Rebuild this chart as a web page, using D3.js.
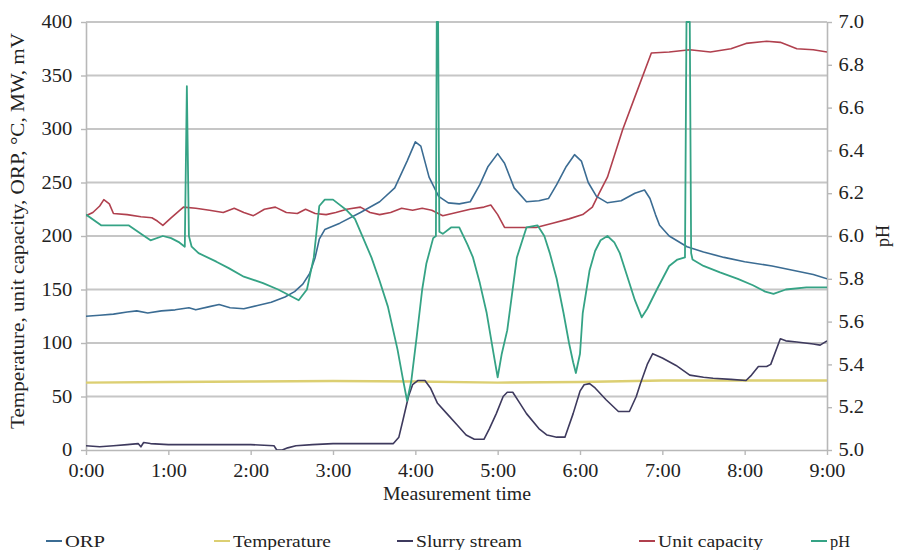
<!DOCTYPE html>
<html>
<head>
<meta charset="utf-8">
<script src="https://cdn.jsdelivr.net/npm/d3@7"></script>
<style>
  html, body { margin: 0; padding: 0; background: #fff; }
  svg { display: block; font-family: "Liberation Serif", "Times New Roman", serif; }
</style>
</head>
<body>
<svg id="chart" width="897" height="550"></svg>
<script>
// Time is given in minutes from 0:00; values in the left-axis unit, pH on its own axis.
const timeTicks = [0, 60, 120, 180, 240, 300, 360, 420, 480, 540];
const leftTicks = [0, 50, 100, 150, 200, 250, 300, 350, 400];
const phTicks = [5.0, 5.2, 5.4, 5.6, 5.8, 6.0, 6.2, 6.4, 6.6, 6.8, 7.0];

const orp = [
  [0,125],[10,126],[20,127],[30,129],[37,130],[45,128],[55,130],[65,131],[75,133],[80,131],
  [90,134],[97,136],[105,133],[115,132],[125,135],[135,138],[145,143],[152,148],[158,155],
  [163,165],[167,180],[170,197],[174,206],[185,212],[200,222],[214,232],[225,245],[234,270],
  [240,288],[244,284],[250,255],[257,237],[264,231],[272,230],[280,232],[287,248],[293,265],
  [300,277],[305,268],[312,245],[321,232],[330,233],[337,235],[343,248],[350,265],[356,276],
  [361,270],[366,250],[372,237],[380,231],[390,233],[400,240],[407,243],[411,235],[415,220],
  [418,210],[425,200],[438,190],[450,185],[465,180],[480,176],[500,172],[515,168],[530,164],[540,160]
];

const temperature = [
  [0,63],[60,63.5],[120,64],[180,64.5],[240,64],[300,63],[360,63.5],[420,65],[480,65],[540,65]
];

const slurryStream = [
  [0,4],[10,3],[20,4],[30,5],[38,6],[40,3],[42,7],[47,6],[60,5],[80,5],[100,5],[120,5],
  [137,4],[139,0],[143,0],[147,2],[153,4],[165,5],[180,6],[200,6],[215,6],[224,6],[228,12],
  [231,28],[235,50],[238,61],[242,65],[247,65],[251,58],[256,44],[263,34],[270,24],[277,14],
  [283,10],[290,10],[294,20],[299,34],[304,50],[307,54],[311,54],[316,44],[321,34],[330,20],
  [336,14],[343,12],[349,12],[355,34],[360,55],[363,61],[367,62],[371,58],[379,47],[388,36],
  [396,36],[401,50],[404,62],[409,80],[413,90],[420,86],[430,79],[440,70],[450,68],[457,67],
  [470,66],[481,65],[485,70],[490,78],[496,78],[499,80],[506,104],[510,102],[518,101],
  [530,99],[535,98],[540,102]
];

const unitCapacity = [
  [0,219],[5,222],[10,228],[13,234],[17,230],[20,221],[30,220],[40,218],[48,217],[52,214],
  [56,210],[62,217],[71,227],[80,226],[90,224],[100,222],[108,226],[115,222],[122,219],
  [130,225],[138,227],[146,222],[154,221],[160,225],[167,221],[175,220],[182,222],[190,225],
  [200,227],[207,222],[214,220],[222,222],[230,226],[238,224],[245,226],[252,224],[260,219],
  [270,222],[280,225],[290,227],[295,229],[300,220],[305,208],[315,208],[328,208],[340,212],
  [352,216],[362,220],[369,227],[374,240],[380,255],[391,299],[400,330],[412,371],[425,372],
  [440,374],[455,372],[470,375],[481,380],[496,382],[506,381],[518,375],[530,374],[540,372]
];

const ph = [
  [0,6.10],[11,6.05],[20,6.05],[31,6.05],[40,6.01],[47,5.98],[56,6.00],[62,5.99],[68,5.97],
  [72,5.95],[73.5,6.70],[75,6.00],[77,5.95],[82,5.92],[95,5.88],[104,5.85],[115,5.81],
  [129,5.78],[140,5.75],[146,5.73],[155,5.70],[161,5.75],[166,5.90],[170,6.14],[174,6.17],
  [180,6.17],[184,6.15],[190,6.12],[196,6.08],[202,5.99],[208,5.90],[214,5.79],[220,5.67],
  [227,5.47],[231,5.33],[234,5.23],[237,5.32],[241,5.53],[245,5.75],[248,5.87],[253,5.99],
  [255,6.00],[255.6,7.0],[256.6,7.0],[257.5,6.02],[260,6.01],[266,6.04],[272,6.04],[278,5.96],
  [282,5.90],[287,5.78],[292,5.64],[297,5.45],[300,5.34],[303,5.45],[307,5.56],[314,5.90],
  [318,5.98],[321,6.04],[329,6.05],[334,6.00],[338,5.92],[343,5.80],[348,5.64],[352,5.50],
  [355,5.41],[357,5.36],[360,5.45],[362,5.64],[367,5.84],[371,5.93],[375,5.98],[380,6.00],
  [385,5.97],[389,5.92],[394,5.82],[400,5.70],[405,5.62],[409,5.66],[416,5.75],[425,5.86],
  [431,5.89],[436.5,5.90],[437.6,7.0],[440,7.0],[441,5.92],[442,5.89],[450,5.86],[462,5.83],
  [475,5.80],[486,5.77],[495,5.74],[501,5.73],[510,5.75],[525,5.76],[540,5.76]
];

const series = [
  { name: "ORP", data: orp, axis: "left", color: "#3b6c93", width: 1.6 },
  { name: "Temperature", data: temperature, axis: "left", color: "#dccf72", width: 2.4 },
  { name: "Slurry stream", data: slurryStream, axis: "left", color: "#3e3a5e", width: 1.6 },
  { name: "Unit capacity", data: unitCapacity, axis: "left", color: "#b0404e", width: 1.6 },
  { name: "pH", data: ph, axis: "right", color: "#35a385", width: 1.8 }
];

const svg = d3.select("#chart");
const m = { left: 86, right: 827, top: 22, bottom: 450 };

const x = d3.scaleLinear().domain([0, 540]).range([m.left, m.right]);
const yL = d3.scaleLinear().domain([0, 400]).range([m.bottom, m.top]);
const yR = d3.scaleLinear().domain([5, 7]).range([m.bottom, m.top]);

const fmtTime = t => `${Math.floor(t / 60)}:${String(t % 60).padStart(2, "0")}`;

// grid lines at left-axis ticks
svg.append("g")
  .selectAll("line")
  .data(leftTicks.filter(d => d > 0))
  .join("line")
  .attr("x1", m.left).attr("x2", m.right)
  .attr("y1", d => yL(d)).attr("y2", d => yL(d))
  .attr("stroke", "#c6c6c6").attr("stroke-width", 1.8);

const axisStyle = g => {
  g.selectAll(".domain").attr("stroke", "#b8b8b8").attr("stroke-width", 1.6);
  g.selectAll(".tick line").attr("stroke", "#b8b8b8").attr("stroke-width", 1.4);
  g.selectAll(".tick text").attr("fill", "#222").style("font-size", "18px")
    .style("font-family", '"Liberation Serif", "Times New Roman", serif');
};

// bottom axis
const gx = svg.append("g").attr("transform", `translate(0,${m.bottom})`)
  .call(d3.axisBottom(x).tickValues(timeTicks).tickFormat(fmtTime).tickSize(5).tickSizeOuter(0))
  .call(axisStyle);
gx.selectAll(".tick text").attr("dy", "1.05em").style("transform", "scaleX(1.12)");

// left axis
const gl = svg.append("g").attr("transform", `translate(${m.left},0)`)
  .call(d3.axisLeft(yL).tickValues(leftTicks).tickSize(5).tickSizeOuter(0))
  .call(axisStyle);
gl.selectAll(".tick text").attr("x", -12).style("transform", "scaleX(1.14)");

// right axis (pH)
const gr = svg.append("g").attr("transform", `translate(${m.right},0)`)
  .call(d3.axisRight(yR).tickValues(phTicks).tickFormat(d3.format(".1f")).tickSize(5).tickSizeOuter(0))
  .call(axisStyle);
gr.selectAll(".tick text").attr("x", 10).style("transform", "scaleX(1.14)");

// clip path for the plotting area
svg.append("clipPath").attr("id", "plot-clip")
  .append("rect").attr("x", m.left).attr("y", m.top - 1)
  .attr("width", m.right - m.left).attr("height", m.bottom - m.top + 1);

const plot = svg.append("g").attr("clip-path", "url(#plot-clip)");
const drawOrder = ["Temperature", "Slurry stream", "Unit capacity", "ORP", "pH"];
drawOrder.forEach(name => {
  const s = series.find(d => d.name === name);
  const yScale = s.axis === "left" ? yL : yR;
  const line = d3.line().x(d => x(d[0])).y(d => yScale(d[1]));
  plot.append("path")
    .datum(s.data)
    .attr("d", line)
    .attr("fill", "none")
    .attr("stroke", s.color)
    .attr("stroke-width", s.width)
    .attr("stroke-linejoin", "round");
});

// axis titles
svg.append("text")
  .attr("transform", "translate(24,231) rotate(-90)")
  .attr("text-anchor", "middle")
  .attr("textLength", 396).attr("lengthAdjust", "spacingAndGlyphs")
  .style("font-size", "18px").attr("fill", "#222")
  .text("Temperature, unit capacity, ORP, °C, MW, mV");

svg.append("text")
  .attr("transform", "translate(889,236) rotate(-90)")
  .attr("text-anchor", "middle")
  .style("font-size", "18px").attr("fill", "#222")
  .text("pH");

svg.append("text")
  .attr("x", 457).attr("y", 500)
  .attr("text-anchor", "middle")
  .attr("textLength", 148).attr("lengthAdjust", "spacingAndGlyphs")
  .style("font-size", "18px").attr("fill", "#222")
  .text("Measurement time");

// legend
const legendItems = [
  { name: "ORP", x: 46, w: 40 },
  { name: "Temperature", x: 214, w: 98 },
  { name: "Slurry stream", x: 397, w: 106 },
  { name: "Unit capacity", x: 639, w: 105 },
  { name: "pH", x: 811, w: 20 }
];
const legend = svg.append("g").attr("transform", "translate(0,541)");
legendItems.forEach(it => {
  const s = series.find(d => d.name === it.name);
  legend.append("line")
    .attr("x1", it.x).attr("x2", it.x + 16)
    .attr("y1", 0).attr("y2", 0)
    .attr("stroke", s.color).attr("stroke-width", 2);
  legend.append("text")
    .attr("x", it.x + 19).attr("y", 6)
    .attr("textLength", it.w).attr("lengthAdjust", "spacingAndGlyphs")
    .style("font-size", "17px").attr("fill", "#222")
    .text(it.name);
});
</script>
</body>
</html>
